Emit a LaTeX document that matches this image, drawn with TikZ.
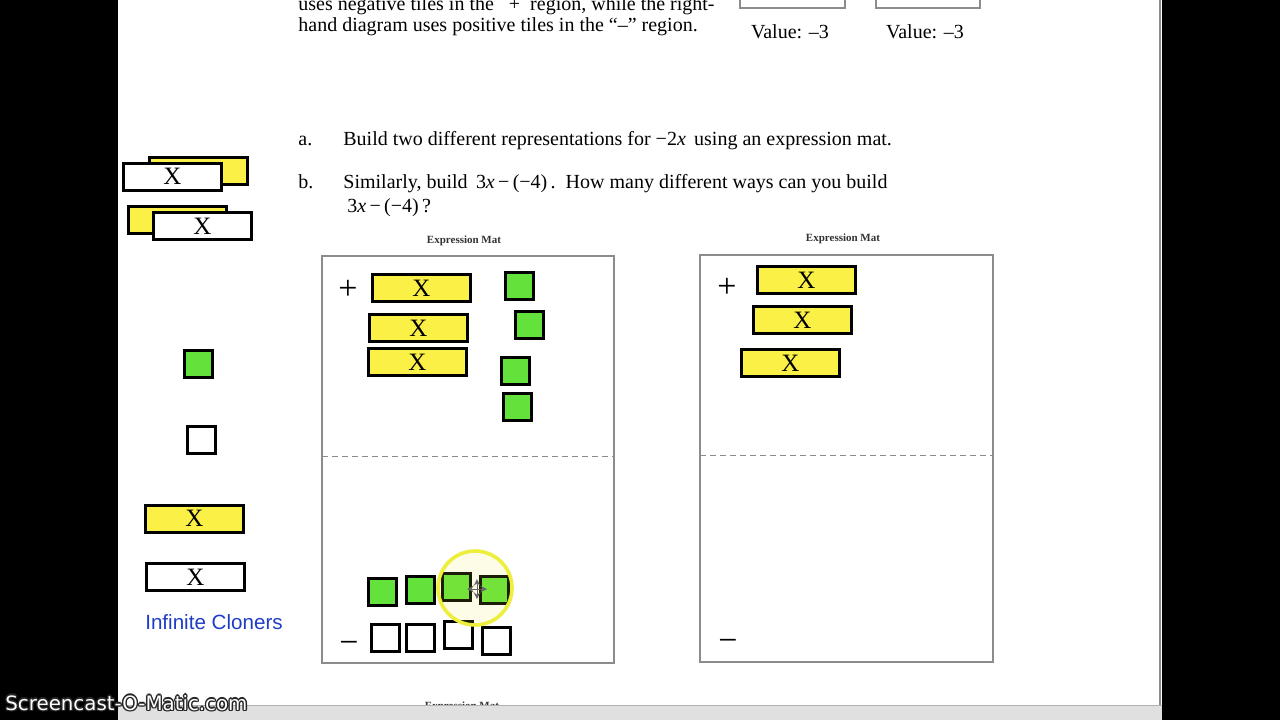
\documentclass[tikz,border=0pt]{standalone}
\usepackage{fontspec}
\setmainfont{Liberation Serif}
\newfontfamily\sansf{Liberation Sans}
\newfontfamily\wmfont{DejaVu Sans}
\definecolor{tileyellow}{RGB}{250,240,70}
\definecolor{tilegreen}{RGB}{98,226,58}
\definecolor{matgray}{RGB}{140,140,140}
\definecolor{clonerblue}{RGB}{30,60,200}
\definecolor{cursoryellow}{RGB}{238,238,60}
\begin{document}
\begin{tikzpicture}[x=0.5pt,y=-0.5pt,
  txt/.style={inner sep=0pt, anchor=base west, font=\fontsize{10}{12}\selectfont},
  ytile/.style={draw=black, line width=1.5pt, fill=tileyellow, minimum width=49pt, minimum height=13.5pt, inner sep=0pt, font=\fontsize{12.5}{12.5}\selectfont},
  wtile/.style={ytile, fill=white},
  gsq/.style={draw=black, line width=1.5pt, fill=tilegreen, minimum width=14pt, minimum height=13.5pt, inner sep=0pt},
  wsq/.style={gsq, fill=white},
  mat/.style={draw=matgray, line width=0.7pt},
  mathead/.style={inner sep=0pt, font=\fontsize{5.5}{6}\selectfont\bfseries, text=black!80},
  sign/.style={inner sep=0pt, font=\fontsize{17}{17}\selectfont}
]
\useasboundingbox (0,0) rectangle (1280,720);
\clip (0,0) rectangle (1280,720);
\fill[black] (0,0) rectangle (1280,720);
\fill[white] (118,0) rectangle (1162,705);

% top text (partially cut, as in the screenshot)
\node[txt] (l1) at (298,10) {uses negative tiles in the \enspace+\enspace region, while the right-};
\node[txt] (l2) at (298,31) {hand diagram uses positive tiles in the “–” region.};
\draw[matgray, line width=0.8pt] (740,-5) -- (740,8) -- (845,8) -- (845,-5);
\draw[matgray, line width=0.8pt] (876,-5) -- (876,8) -- (980,8) -- (980,-5);
\node[txt, anchor=base] (v1) at (790,38) {Value: –3};
\node[txt, anchor=base] (v2) at (925,38) {Value: –3};

% questions
\node[txt] (qa) at (298,145) {a.};
\node[txt] (qat) at (343,145) {Build two different representations for −2\textit{x}\, using an expression mat.};
\node[txt] (qb) at (298,188) {b.};
\node[txt] (qbt) at (343,188) {Similarly, build \,3\textit{x}\,−\,(−4)\,.\, How many different ways can you build};
\node[txt] (qbt2) at (347,212) {3\textit{x}\,−\,(−4)\,?};

% infinite cloners
\node[ytile] (c1y) at (198.5,170.5) {};
\node[wtile] (c1w) at (172.5,176.5) {X};
\node[ytile] (c2y) at (177.5,219.5) {};
\node[wtile] (c2w) at (202.5,226) {X};
\node[gsq] (cg) at (198.5,364) {};
\node[wsq] (cw) at (201.5,440) {};
\node[ytile] (cy) at (194.5,518.5) {X};
\node[wtile] (cx) at (195.5,577) {X};
\node[inner sep=0pt, font=\sansf\fontsize{10.3}{11}\selectfont, text=clonerblue] (clab) at (214,622) {Infinite Cloners};

% left mat
\node[mathead] (h1) at (464,241) {Expression Mat};
\draw[mat] (322,256) rectangle (614,663);
\draw[matgray, line width=0.5pt, densely dashed] (322,456) -- (614,456);
\node[sign] (p1) at (348,290) {+};
\node[sign] (m1) at (349,647) {−};
\node[ytile] (a1) at (421.5,288) {X};
\node[ytile] (a2) at (418.5,328) {X};
\node[ytile] (a3) at (417.5,362) {X};
\node[gsq] (g1) at (519.5,286) {};
\node[gsq] (g2) at (529.5,325) {};
\node[gsq] (g3) at (515.5,371) {};
\node[gsq] (g4) at (517.5,407) {};
\node[gsq] (g5) at (382.5,591.5) {};
\node[gsq] (g6) at (420.5,590) {};
\node[gsq] (g7) at (456,587) {};
\node[gsq] (g8) at (494.5,590) {};
\node[wsq] (w1) at (385,638) {};
\node[wsq] (w2) at (420.5,638) {};
\node[wsq] (w3) at (458.5,635) {};
\node[wsq] (w4) at (496.5,641) {};
\node[circle, draw=cursoryellow, line width=1.8pt, fill=cursoryellow, fill opacity=0.12, minimum size=37pt, inner sep=0pt] (cur) at (475,588) {};
\coordinate (mc) at (477,589);
\draw[black!60, line width=0.5pt, <->, >=stealth] ([xshift=-5]mc) -- ([xshift=5]mc);
\draw[black!60, line width=0.5pt, <->, >=stealth] ([yshift=-5]mc) -- ([yshift=5]mc);

% right mat
\node[mathead] (h2) at (843,239) {Expression Mat};
\draw[mat] (700,255) rectangle (993,662);
\draw[matgray, line width=0.5pt, densely dashed] (700,455) -- (993,455);
\node[sign] (p2) at (727,288) {+};
\node[sign] (m2) at (728,645) {−};
\node[ytile] (b1) at (806.5,280) {X};
\node[ytile] (b2) at (802.5,320) {X};
\node[ytile] (b3) at (790.5,363) {X};

% partially hidden header at the bottom
\node[mathead] (h3) at (462,707) {Expression Mat};
\fill[black!12] (118,705) rectangle (1162,720);
\draw[black!30, line width=0.5pt] (118,705) -- (1162,705);
\draw[matgray, line width=1pt] (1160,0) -- (1160,705);
\fill[black] (1163,0) rectangle (1280,720);

% watermark
\foreach \dx/\dy [count=\i] in {-1.4/0,1.4/0,0/-1.4,0/1.4,-1/-1,1/1,-1/1,1/-1}
  \node[inner sep=0pt, font=\wmfont\fontsize{9.9}{10}\selectfont, text=black!85, anchor=west] (wmb\i) at (5+\dx,703+\dy) {Screencast-O-Matic.com};
\node[inner sep=0pt, font=\wmfont\fontsize{9.9}{10}\selectfont, text=white, anchor=west] (wm) at (5,703) {Screencast-O-Matic.com};
\end{tikzpicture}
\end{document}
